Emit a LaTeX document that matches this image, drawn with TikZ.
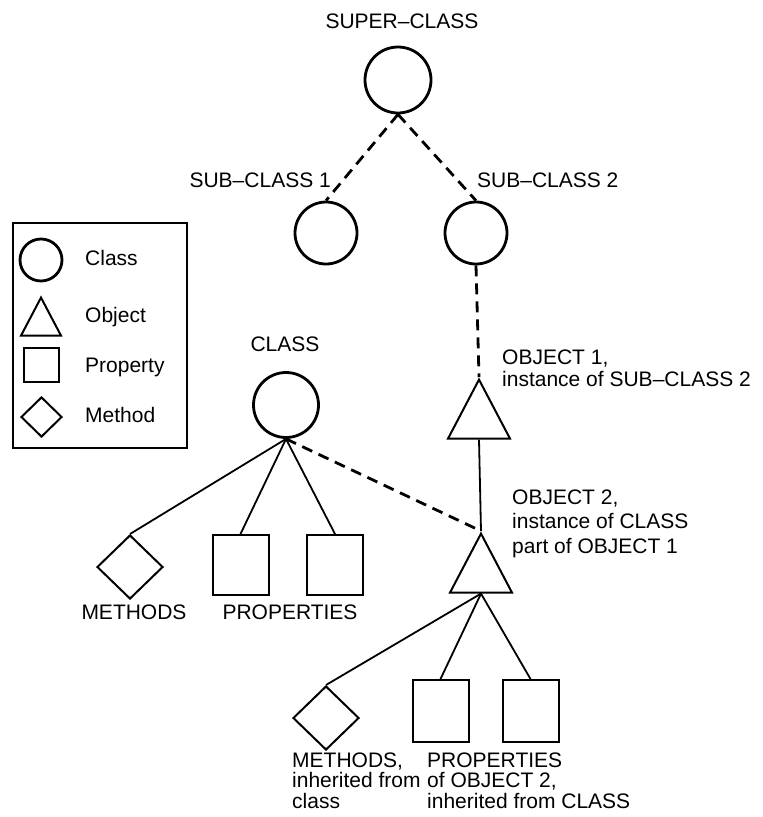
\documentclass[tikz,border=0pt]{standalone}
\usepackage{fontspec}
\setmainfont{Liberation Sans}
\usetikzlibrary{shapes.geometric}

\begin{document}
\begin{tikzpicture}
[every node/.style={inner sep=0pt},
 lbl/.style={font=\fontsize{21pt}{22pt}\selectfont},
 classcirc/.style={circle, line width=2.8pt, draw=black},
 objtri/.style={isosceles triangle, isosceles triangle stretches, shape border rotate=90, minimum width=62pt, minimum height=59pt, line width=2pt, draw=black},
 propsq/.style={rectangle, minimum width=56pt, minimum height=60pt, line width=2pt, draw=black},
 methdia/.style={diamond, minimum width=66pt, minimum height=64pt, line width=2pt, draw=black},
 isa/.style={line width=2.8pt, dash pattern=on 11pt off 7pt},
 has/.style={line width=1.8pt}]
\useasboundingbox (0pt, 0pt) rectangle (763pt, -817pt);
% key
\node (key) [draw=black, line width=1.5pt, minimum width=174pt, minimum height=225pt] at (100pt, -335.5pt) {};
\node (kc) [classcirc, minimum size=42pt] at (41pt, -260pt) {};
\node (ko) [objtri, minimum width=40pt, minimum height=38pt, anchor=apex] at (41pt, -295pt) {};
\node (kp) [propsq, minimum width=35pt, minimum height=34pt] at (41.5pt, -365pt) {};
\node (km) [methdia, minimum width=41pt, minimum height=40pt] at (41.5pt, -417pt) {};
\node (kctext) [lbl, anchor=base west] at (85pt, -265pt) {Class};
\node (kotext) [lbl, anchor=base west] at (85pt, -322pt) {Object};
\node (kptext) [lbl, anchor=base west] at (85pt, -372pt) {Property};
\node (kmtext) [lbl, anchor=base west] at (85pt, -422pt) {Method};
% classes
\node (super) [classcirc, minimum size=66pt] at (398pt, -80pt) {};
\node (sub1) [classcirc, minimum size=62pt] at (326pt, -233pt) {};
\node (sub2) [classcirc, minimum size=62pt] at (476pt, -233pt) {};
\node (cls) [classcirc, minimum size=65pt] at (286pt, -405pt) {};
\node (supertext) [lbl, anchor=base] at (402pt, -28.5pt) {SUPER\textendash CLASS};
\node (sub1text) [lbl, anchor=base east] at (331pt, -187.5pt) {SUB\textendash CLASS 1};
\node (sub2text) [lbl, anchor=base west] at (477pt, -187.5pt) {SUB\textendash CLASS 2};
\node (clstext) [lbl, anchor=base] at (285pt, -351.5pt) {CLASS};
% objects
\node (obj1) [objtri, anchor=apex] at (479pt, -377pt) {};
\node (obj2) [objtri, anchor=apex] at (481pt, -531pt) {};
\node (obj1text) [lbl, anchor=north west, align=left] at (502pt, -349.5pt) {OBJECT 1,\\instance of SUB\textendash CLASS 2};
\node (obj2text) [lbl, font=\fontsize{21pt}{24.5pt}\selectfont, anchor=north west, align=left] at (512pt, -489.5pt) {OBJECT 2,\\instance of CLASS\\part of OBJECT 1};
% members of CLASS
\node (m1) [methdia] at (130pt, -567pt) {};
\node (p1) [propsq] at (240.5pt, -565pt) {};
\node (p2) [propsq] at (335pt, -565pt) {};
\node (m1text) [lbl, anchor=base] at (134pt, -619.5pt) {METHODS};
\node (p12text) [lbl, anchor=base] at (290pt, -619.5pt) {PROPERTIES};
% members of OBJECT 2
\node (m2) [methdia] at (326pt, -718pt) {};
\node (p3) [propsq, minimum height=62pt] at (440.5pt, -711pt) {};
\node (p4) [propsq, minimum height=62pt] at (530.5pt, -711pt) {};
\node (m2text) [lbl, font=\fontsize{21pt}{20.5pt}\selectfont, anchor=north west, align=left] at (292pt, -752.5pt) {METHODS,\\inherited from\\class};
\node (p34text) [lbl, font=\fontsize{21pt}{20.5pt}\selectfont, anchor=north west, align=left] at (427pt, -752.5pt) {PROPERTIES\\of OBJECT 2,\\inherited from CLASS};
% links
\draw [isa] (super.south) -- (sub1.north);
\draw [isa] (super.south) -- (sub2.north);
\draw [isa] (sub2.south) -- (obj1.apex);
\draw [isa] (cls.south) -- (obj2.apex);
\draw [has] (obj1.lower side) -- (obj2.apex);
\draw [has] (cls.south) -- (m1.north);
\draw [has] (cls.south) -- (p1.north);
\draw [has] (cls.south) -- (p2.north);
\draw [has] (obj2.lower side) -- (m2.north);
\draw [has] (obj2.lower side) -- (p3.north);
\draw [has] (obj2.lower side) -- (p4.north);
\end{tikzpicture}
\end{document}
